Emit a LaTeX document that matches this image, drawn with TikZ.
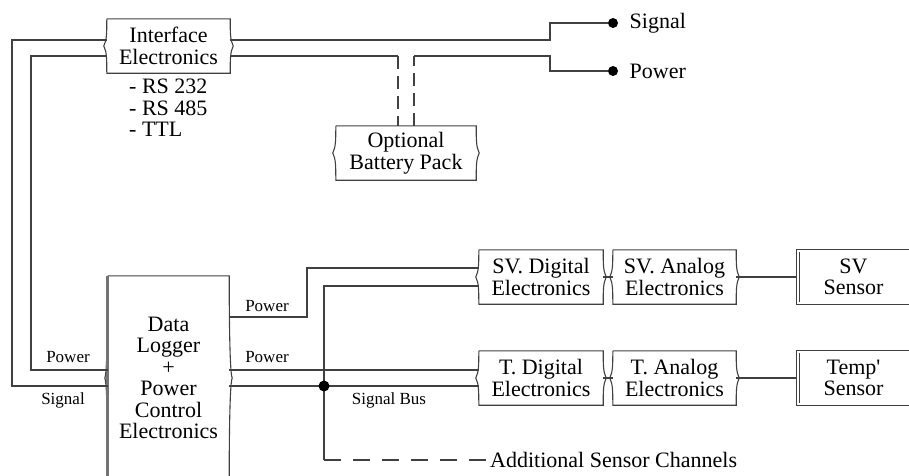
\documentclass[tikz,border=0pt]{standalone}
\usepackage{fontspec}
\setmainfont{Liberation Serif}
\newfontfamily\rawserif{Liberation Serif}
\usetikzlibrary{calc,positioning}
\newcommand{\bigtext}{\fontsize{22}{21.5}\selectfont}
\newcommand{\smalltext}{\fontsize{17}{18}\selectfont}
\tikzset{
  wire/.style={draw=black!75, line width=1.1pt},
  edge/.style={draw=black!75, line width=1.1pt},
  scroll/.style={align=center, font=\bigtext, inner sep=0pt, minimum height=54, minimum width=#1},
  scroll/.default=123,
  tag/.style={font=\smalltext, inner sep=1pt},
  bigdot/.style={circle, fill=black, inner sep=0pt, minimum size=#1},
  bigdot/.default=9,
  gap/.style={dash pattern=on 13pt off 7pt},
  longgap/.style={dash pattern=on 17pt off 12pt}
}
\begin{document}
\begin{tikzpicture}[x=1pt,y=-1pt]
  \useasboundingbox (0,0) rectangle (909,475);
  \clip (0,0) rectangle (909,475);
  %Boxes
  \node[scroll] (iface) at (168.5,46) {Interface\\Electronics};
  \node[scroll=140] (batt) at (406,153) {Optional\\Battery Pack};
  \node[scroll=121, minimum height=204] (logger) at (168.5,378) {Data\\Logger\\+\\Power\\Control\\Electronics};
  \node[scroll=124] (svdig) at (541,277) {SV. Digital\\Electronics};
  \node[scroll=124] (tdig) at (541,378) {T. Digital\\Electronics};
  \node[scroll] (svana) at (674.5,277) {SV. Analog\\Electronics};
  \node[scroll] (tana) at (674.5,378) {T. Analog\\Electronics};
  \node[scroll=113] (svsen) at (853.5,277) {SV\\Sensor};
  \node[scroll=113] (tsen) at (853.5,378) {Temp{\rawserif'}\\Sensor};
  %Outlines
  \foreach \n in {iface,batt,logger,svdig,tdig,svana,tana}{
    \draw[edge] (\n.north west) -- (\n.north east)
      .. controls +(0,14) and +(-3,-6) .. ($(\n.east)+(3,0)$)
      .. controls +(-3,6) and +(0,-14) .. (\n.south east)
      -- (\n.south west)
      .. controls +(0,-14) and +(3,6) .. ($(\n.west)+(-3,0)$)
      .. controls +(3,-6) and +(0,14) .. (\n.north west);
  }
  \foreach \n in {svsen,tsen}{
    \draw[edge] (\n.north west) rectangle (\n.south east);
    \draw[edge] ($(\n.north west)+(3,2)$) -- ($(\n.south west)+(3,-2)$);
  }
  \draw[black!55, line width=3pt] (logger.north west) -- (logger.south west);
  %Terminals
  \node[bigdot=10] (sigT) at (613,23) {};
  \node[bigdot=10] (pwrT) at (613,71) {};
  \node[font=\bigtext, anchor=west] (sigL) at ($(sigT.east)+(8,0)$) {Signal};
  \node[font=\bigtext, anchor=west] (pwrL) at ($(pwrT.east)+(8,0)$) {Power};
  %Texts
  \node[font=\bigtext, align=left, anchor=north west, inner sep=0pt] (ports) at (129,79) {- RS 232\\- RS 485\\- TTL};
  \node[tag] (pwrA) at (68,357) {Power};
  \node[tag] (sigA) at (63,400) {Signal};
  \node[tag] (pwrB) at (267,306) {Power};
  \node[tag] (pwrC) at (267,357) {Power};
  \node[tag] (busL) at (389,400) {Signal Bus};
  \node[font=\bigtext, anchor=west, inner sep=0pt] (addl) at (490,460) {Additional Sensor Channels};
  %Interface wiring
  \draw[wire] ($(iface.west)+(0,-6)$) -| (12,386) -- ($(logger.west)+(0,8)$);
  \draw[wire] ($(iface.west)+(0,10)$) -| (31,370) -- ($(logger.west)+(0,-8)$);
  \draw[wire] ($(iface.east)+(0,-6)$) -- (550,40) |- (sigT);
  \coordinate (bA) at (398,56);
  \coordinate (bB) at (414,56);
  \draw[wire] ($(iface.east)+(0,10)$) -- (bA);
  \draw[wire, gap] (bA) -- (bA |- batt.north);
  \draw[wire, gap] (bB |- batt.north) -- (bB);
  \draw[wire] (bB) -- (550,56) |- (pwrT);
  %Logger wiring
  \coordinate (chan) at (324,460);
  \draw[wire] ($(logger.east)+(0,-61)$) -| (307,268) -- ($(svdig.west)+(0,-9)$);
  \draw[wire] ($(svdig.west)+(0,9)$) -| (chan);
  \draw[wire, longgap] (chan) -- (addl.west);
  \draw[wire] ($(logger.east)+(0,-8)$) -- ($(tdig.west)+(0,-8)$);
  \draw[wire] ($(logger.east)+(0,8)$) -- ($(tdig.west)+(0,8)$);
  \coordinate (busJ) at (324,386);
  \node[bigdot=11] (busDot) at (busJ) {};
  %Channels
  \draw[wire] (svdig) -- (svana) -- (svsen);
  \draw[wire] (tdig) -- (tana) -- (tsen);
\end{tikzpicture}
\end{document}
